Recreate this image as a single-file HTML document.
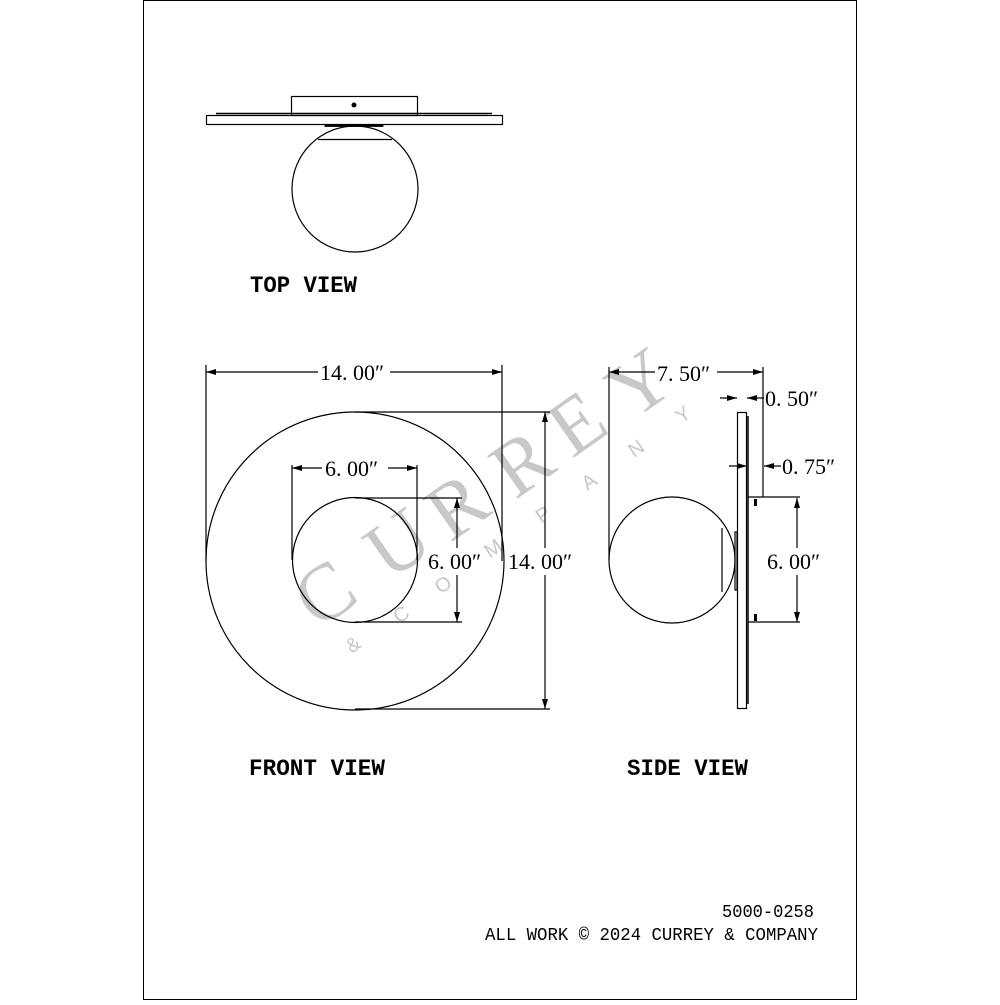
<!DOCTYPE html>
<html><head><meta charset="utf-8"><style>html,body{margin:0;padding:0;background:#fff}</style></head>
<body>
<svg width="1000" height="1000" viewBox="0 0 1000 1000" xmlns="http://www.w3.org/2000/svg">
<defs>
<marker id="a" viewBox="0 0 10 6" refX="10" refY="3" markerWidth="10" markerHeight="6" orient="auto-start-reverse" markerUnits="userSpaceOnUse"><path d="M0,0 L10,3 L0,6 Z" fill="#000"/></marker>
</defs>
<rect x="143.5" y="0.5" width="713" height="999" fill="none" stroke="#000" stroke-width="1"/>
<!-- watermark -->
<g fill="#c8c8c8" font-family="Liberation Serif, serif" text-anchor="middle">
<text font-size="80" transform="translate(340,615) rotate(-35)">C</text>
<text font-size="80" transform="translate(413,565) rotate(-35)">U</text>
<text font-size="80" transform="translate(472,528) rotate(-35)">R</text>
<text font-size="80" transform="translate(537,485) rotate(-35)">R</text>
<text font-size="80" transform="translate(592,445) rotate(-35)">E</text>
<text font-size="80" transform="translate(655,405) rotate(-35)">Y</text>
</g>
<g fill="#c8c8c8" font-family="Liberation Sans, sans-serif" font-size="20" text-anchor="middle">
<text transform="translate(357,650) rotate(-35)">&amp;</text>
<text transform="translate(405,620) rotate(-35)">C</text>
<text transform="translate(447,590) rotate(-35)">O</text>
<text transform="translate(497,554) rotate(-35)">M</text>
<text transform="translate(547,520) rotate(-35)">P</text>
<text transform="translate(593,487) rotate(-35)">A</text>
<text transform="translate(640,454) rotate(-35)">N</text>
<text transform="translate(687,420) rotate(-35)">Y</text>
</g>
<g fill="none" stroke="#000" stroke-width="1.2">
<!-- top view -->
<rect x="291.5" y="96.5" width="126" height="19"/>
<line x1="216" y1="113.5" x2="492" y2="113.5" stroke-width="1.5"/>
<rect x="206.5" y="115.5" width="296" height="9"/>
<rect x="325" y="124.5" width="58" height="2" fill="#000" stroke-width="0.8"/>
<circle cx="355" cy="189" r="63"/>
<line x1="318" y1="139.5" x2="392" y2="139.5"/>
<!-- front view -->
<circle cx="355" cy="561" r="149"/>
<circle cx="355" cy="560" r="62.5"/>
<line x1="206" y1="365" x2="206" y2="561"/>
<line x1="502" y1="365" x2="502" y2="561"/>
<line x1="206" y1="372" x2="318" y2="372" marker-start="url(#a)"/>
<line x1="390" y1="372" x2="502" y2="372" marker-end="url(#a)"/>
<line x1="355" y1="412" x2="550" y2="412"/>
<line x1="355" y1="709" x2="550" y2="709"/>
<line x1="545" y1="412" x2="545" y2="548" marker-start="url(#a)"/>
<line x1="545" y1="575" x2="545" y2="709" marker-end="url(#a)"/>
<line x1="292" y1="465" x2="292" y2="560"/>
<line x1="417" y1="465" x2="417" y2="560"/>
<line x1="292" y1="468" x2="322" y2="468" marker-start="url(#a)"/>
<line x1="388" y1="468" x2="417" y2="468" marker-end="url(#a)"/>
<line x1="355" y1="498" x2="462" y2="498"/>
<line x1="355" y1="622" x2="462" y2="622"/>
<line x1="457" y1="498" x2="457" y2="548" marker-start="url(#a)"/>
<line x1="457" y1="575" x2="457" y2="622" marker-end="url(#a)"/>
<!-- side view -->
<circle cx="672" cy="560" r="63"/>
<line x1="722" y1="528" x2="722" y2="592"/>
<rect x="735" y="532" width="2" height="58"/>
<rect x="737.5" y="412.5" width="9" height="296"/>
<line x1="748" y1="416" x2="748" y2="704" stroke-width="1.5"/>
<line x1="763" y1="367" x2="763" y2="497"/>
<line x1="748" y1="497" x2="800" y2="497"/>
<line x1="748" y1="622" x2="800" y2="622"/>
<line x1="609" y1="367" x2="609" y2="560"/>
<line x1="609" y1="372" x2="655" y2="372" marker-start="url(#a)"/>
<line x1="717" y1="372" x2="763" y2="372" marker-end="url(#a)"/>
<line x1="720" y1="398" x2="737" y2="398" marker-end="url(#a)"/>
<line x1="764" y1="398" x2="747" y2="398" marker-end="url(#a)"/>
<line x1="729" y1="466" x2="747" y2="466" marker-end="url(#a)"/>
<line x1="781" y1="466" x2="764" y2="466" marker-end="url(#a)"/>
<line x1="797" y1="498" x2="797" y2="548" marker-start="url(#a)"/>
<line x1="797" y1="575" x2="797" y2="622" marker-end="url(#a)"/>
</g>
<circle cx="354" cy="105" r="2.5" fill="#000"/>
<rect x="754" y="499" width="3" height="7" fill="#000"/>
<rect x="754" y="614" width="3" height="7" fill="#000"/>
<g font-family="Liberation Serif, serif" font-size="22" fill="#000">
<text x="320" y="380">14. 00″</text>
<text x="325" y="476">6. 00″</text>
<text x="428" y="569">6. 00″</text>
<text x="508" y="569">14. 00″</text>
<text x="657" y="381">7. 50″</text>
<text x="765" y="406">0. 50″</text>
<text x="782" y="474">0. 75″</text>
<text x="767" y="569">6. 00″</text>
</g>
<g font-family="Liberation Mono, DejaVu Sans Mono, monospace" font-size="23" font-weight="bold" fill="#000">
<text x="250" y="292" textLength="107" lengthAdjust="spacingAndGlyphs">TOP VIEW</text>
<text x="249" y="775" textLength="136" lengthAdjust="spacingAndGlyphs">FRONT VIEW</text>
<text x="627" y="775" textLength="121" lengthAdjust="spacingAndGlyphs">SIDE VIEW</text>
</g>
<g font-family="Liberation Mono, DejaVu Sans Mono, monospace" font-size="18" fill="#000">
<text x="722" y="917" textLength="92" lengthAdjust="spacingAndGlyphs">5000-0258</text>
<text x="485" y="940" textLength="333" lengthAdjust="spacingAndGlyphs">ALL WORK © 2024 CURREY &amp; COMPANY</text>
</g>
</svg>
</body></html>
